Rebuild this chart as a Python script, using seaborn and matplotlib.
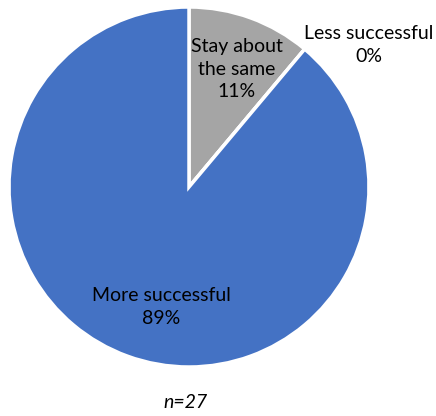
import matplotlib
matplotlib.use("Agg")
import matplotlib.pyplot as plt
import seaborn as sns

# responses (n=27), clockwise from 12 o'clock
categories = ["Stay about\nthe same", "Less successful", "More successful"]
counts = [3, 0, 24]
colors = ["#A5A5A5", "#A5A5A5", "#4472C4"]
n_total = 27

sns.set_theme(style="white")
plt.rcParams['font.family'] = ['Lato', 'DejaVu Sans']

fig = plt.figure(figsize=(4.36, 4.16), dpi=100)
ax = fig.add_axes([9/436, 49/416, 360/436, 360/416])

ax.pie(counts, colors=colors, startangle=90, counterclock=False, radius=1,
       wedgeprops=dict(edgecolor="white", linewidth=2.5))
ax.set_xlim(-1, 1)
ax.set_ylim(-1, 1)
ax.set_aspect("auto")

# data label positions (in pie units)
label_pos = [(0.265, 0.655), (1.0, 0.79), (-0.153, -0.667)]
for cat, c, (x, y) in zip(categories, counts, label_pos):
    pct = round(100 * c / n_total)
    ax.text(x, y, f"{cat}\n{pct}%", ha="center", va="center",
            fontsize=14, color="#000000", linespacing=1.4, clip_on=False)

fig.text(185/436, 1 - 403/416, f"n={n_total}", ha="center", va="center",
         fontsize=14, style="italic", color="#000000")

fig.savefig("out.png", dpi=100)
